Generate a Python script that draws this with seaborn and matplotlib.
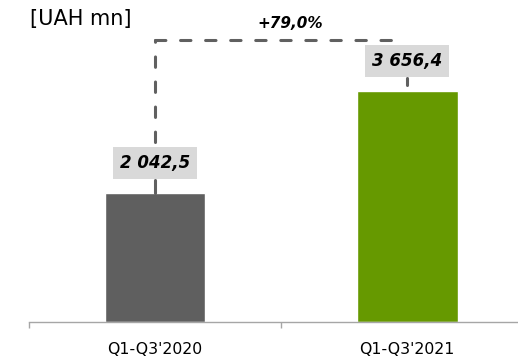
import matplotlib
matplotlib.use("Agg")
import matplotlib.pyplot as plt
import seaborn as sns
import pandas as pd
from matplotlib.ticker import FixedLocator

categories = ["Q1-Q3'2020", "Q1-Q3'2021"]
values = [2042.5, 3656.4]
value_labels = ["2 042,5", "3 656,4"]
growth_label = "+79,0%"
unit_label = "[UAH mn]"
bar_colors = ["#5f5f5f", "#669900"]

sns.set_theme(style="white")
plt.rcParams['font.family'] = ['DejaVu Sans']

df = pd.DataFrame({"period": categories, "value": values})

fig = plt.figure(figsize=(5.18, 3.56), dpi=100)
ax = fig.add_axes([29 / 518, 34 / 356, 1 - 29 / 518, 322 / 356])
sns.barplot(data=df, x="period", y="value", hue="period", palette=bar_colors,
            legend=False, width=0.4, saturation=1, ax=ax)

YMAX = 5100
ax.set_ylim(0, YMAX)
ax.set_xlim(-0.5, 1.44)
ax.set_xlabel("")
ax.set_ylabel("")
ax.set_yticks([])
for s in ["top", "right", "left"]:
    ax.spines[s].set_visible(False)
ax.spines["bottom"].set_color("#a6a6a6")
ax.spines["bottom"].set_linewidth(1.0)
ax.xaxis.set_minor_locator(FixedLocator([-0.5, 0.5, 1.5]))
ax.tick_params(axis="x", which="major", length=0, pad=14.5, labelsize=11.3, labelcolor="#000000")
ax.tick_params(axis="x", which="minor", bottom=True, length=4, width=1.0, color="#a6a6a6")

# pixel -> data conversion for vertical offsets
px = YMAX / 322.0
dash_kw = dict(color="#606060", lw=2.2, linestyle=(0, (3.4, 4.8)), dash_capstyle="round",
               solid_capstyle="round")

box_off = 30 * px
box_half = 17 * px
for i, (v, lab) in enumerate(zip(values, value_labels)):
    yc = v + box_off
    ax.text(i, yc, lab, ha="center", va="center", fontsize=12, fontweight="bold",
            fontstyle="italic", color="#000000", zorder=5,
            bbox=dict(boxstyle="square,pad=0.42", facecolor="#d9d9d9", edgecolor="none"))
    # connector from box to bar top
    top = v if i == 0 else v + 6 * px
    ax.plot([i, i], [top, yc - box_half], color="#606060", lw=2.2,
            solid_capstyle="round", zorder=4)

# growth bracket
y_line = values[0] + box_off + box_half
y_top = (322 - 40) * px
ax.plot([0, 0], [y_line + 4 * px, y_top], **dash_kw)
ax.plot([0, 0.98], [y_top, y_top], **dash_kw)
ax.text(0.535, y_top + 16 * px, growth_label, ha="center", va="center", fontsize=11,
        fontweight="bold", fontstyle="italic", color="#000000")

fig.text(30 / 518, 1 - 19 / 356, unit_label, ha="left", va="center", fontsize=15,
         color="#000000")

fig.savefig("out.png", dpi=100)
